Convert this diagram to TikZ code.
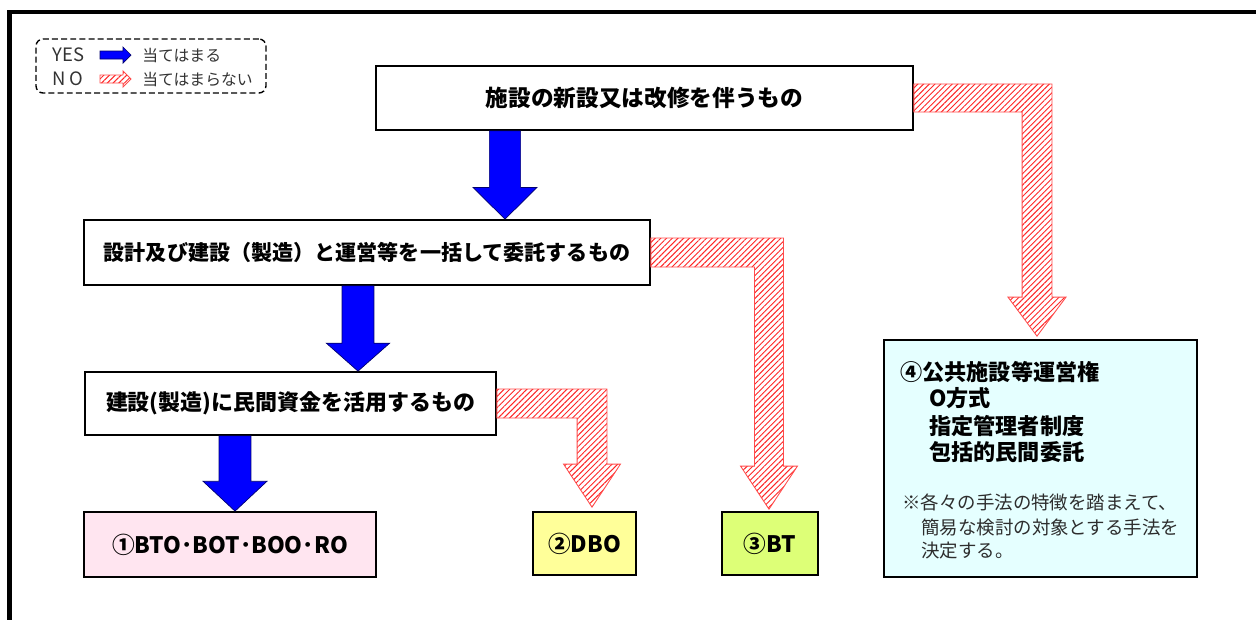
\documentclass[tikz,border=0pt]{standalone}
\usepackage{fontspec}
\setmainfont{Noto Sans CJK JP}
\usetikzlibrary{calc,patterns.meta}
\definecolor{pinkfill}{RGB}{255,229,240}
\definecolor{yellowfill}{RGB}{255,255,153}
\definecolor{greenfill}{RGB}{221,255,119}
\definecolor{cyanfill}{RGB}{229,255,255}
\definecolor{notegray}{RGB}{45,45,45}
\definecolor{yesblue}{RGB}{0,0,255}
\definecolor{yesedge}{RGB}{0,0,110}
% #1 start, #2 end, #3 shaft half, #4 head half, #5 head length
\newcommand\yesarrow[5]{%
  \filldraw[yesarr] let \p1=(#1), \p2=(#2) in
    (\x1-#3,\y1) -- (\x1+#3,\y1) -- (\x1+#3,\y2+#5) -- (\x1+#4,\y2+#5)
    -- (\x1,\y2) -- (\x1-#4,\y2+#5) -- (\x1-#3,\y2+#5) -- cycle;}
% #1 start, #2 tip, #3 band half, #4 shaft half, #5 head half, #6 head length
\newcommand\noarrow[6]{%
  \path[noarr] let \p1=(#1), \p2=(#2) in
    (\x1,\y1+#3) -- (\x2+#4,\y1+#3) -- (\x2+#4,\y2+#6) -- (\x2+#5,\y2+#6)
    -- (\x2,\y2) -- (\x2-#5,\y2+#6) -- (\x2-#4,\y2+#6) -- (\x2-#4,\y1-#3)
    -- (\x1,\y1-#3) -- cycle;}
\begin{document}
\begin{tikzpicture}[x=0.02cm,y=-0.02cm,
  flowbox/.style={draw=black,line width=1pt,fill=white,inner sep=0pt,
    font=\bfseries\fontsize{12.9}{15}\selectfont},
  yesarr/.style={fill=yesblue,draw=yesedge,line width=0.4pt,line join=miter},
  noarr/.style={draw=red!70,line width=0.5pt,
    pattern={Lines[angle=45,distance=2.3pt,line width=0.55pt]},pattern color=red!85},
  legtext/.style={anchor=west,inner sep=0pt,text=black!80,font=\fontsize{9}{10}\selectfont},
  boldline/.style={anchor=base west,inner sep=0pt,font=\bfseries\fontsize{12.6}{15}\selectfont},
  noteline/.style={anchor=base west,inner sep=0pt,text=notegray,font=\fontsize{10.5}{12}\selectfont}]
\useasboundingbox (0,0) rectangle (1256,619);

% outer frame
\draw[line width=2.4pt] (9.5,625) -- (9.5,12) -- (1262,12);

% legend
\node[draw,dashed,dash pattern=on 3.4pt off 1.8pt,rounded corners=4pt,line width=0.8pt,
  minimum width=4.6cm,minimum height=1.08cm,inner sep=0pt] (leg) at (151,66) {};
\node[legtext,font=\fontsize{10.5}{11}\selectfont] (lyes) at (52,55) {YES};
\node[legtext,font=\fontsize{10.5}{11}\selectfont] (lno) at (52,79) {N O};
\node[legtext] (lyest) at (142,55) {当てはまる};
\node[legtext] (lnot) at (142,79) {当てはまらない};
\filldraw[yesarr] (100,51) -- (123,51) -- (123,47) -- (131,55) -- (123,63) -- (123,59) -- (100,59) -- cycle;
\path[noarr] (100,75) -- (123,75) -- (123,71) -- (131,79) -- (123,87) -- (123,83) -- (100,83) -- cycle;

% boxes
\node[flowbox,minimum width=10.74cm,minimum height=1.28cm] (b1) at (644.5,98) {施設の新設又は改修を伴うもの};
\node[flowbox,minimum width=11.32cm,minimum height=1.30cm,font=\bfseries\fontsize{12}{14}\selectfont] (b2) at (367,252.5) {設計及び建設（製造）と運営等を一括して委託するもの};
\node[flowbox,minimum width=8.22cm,minimum height=1.26cm,font=\bfseries\fontsize{12.5}{14}\selectfont] (b3) at (290.5,403.5) {建設(製造)に民間資金を活用するもの};
\node[flowbox,fill=pinkfill,minimum width=5.84cm,minimum height=1.30cm] (r1) at (230,544.5) {①BTO･BOT･BOO･RO};
\node[flowbox,fill=yellowfill,minimum width=2.06cm,minimum height=1.26cm] (r2) at (584.5,543.5) {②DBO};
\node[flowbox,fill=greenfill,minimum width=1.92cm,minimum height=1.26cm] (r3) at (770,543.5) {③BT};
\node[flowbox,fill=cyanfill,minimum width=6.26cm,minimum height=4.74cm] (r4) at (1040.5,458.5) {};

% text of box 4
\node[boldline] (t41) at (900,380) {④公共施設等運営権};
\node[boldline] (t42) at (929,406) {O方式};
\node[boldline] (t43) at (929,434) {指定管理者制度};
\node[boldline] (t44) at (929,460) {包括的民間委託};
\node[noteline] (n1) at (902,509) {※各々の手法の特徴を踏まえて、};
\node[noteline] (n2) at (921,534) {簡易な検討の対象とする手法を};
\node[noteline] (n3) at (921,557) {決定する。};

% YES arrows
\yesarrow{$(b1.south)+(-139.5,0)$}{b2.north}{8.9pt}{18.2pt}{18pt}
\yesarrow{$(b2.south)+(-9,0)$}{b3.north}{9.1pt}{18pt}{15.9pt}
\yesarrow{$(b3.south)+(-55.5,0)$}{r1.north}{9.1pt}{18.2pt}{17pt}

% NO arrows
\noarrow{b1.east}{$(r4.north)+(-3.5,-3)$}{8pt}{8.5pt}{16.5pt}{22.2pt}
\noarrow{b2.east}{$(r3.north)+(-1,-2)$}{8.25pt}{8.25pt}{16.2pt}{24.5pt}
\noarrow{b3.east}{$(r2.north)+(7.5,-4)$}{8.25pt}{8.5pt}{16.2pt}{24.5pt}
\end{tikzpicture}
\end{document}
